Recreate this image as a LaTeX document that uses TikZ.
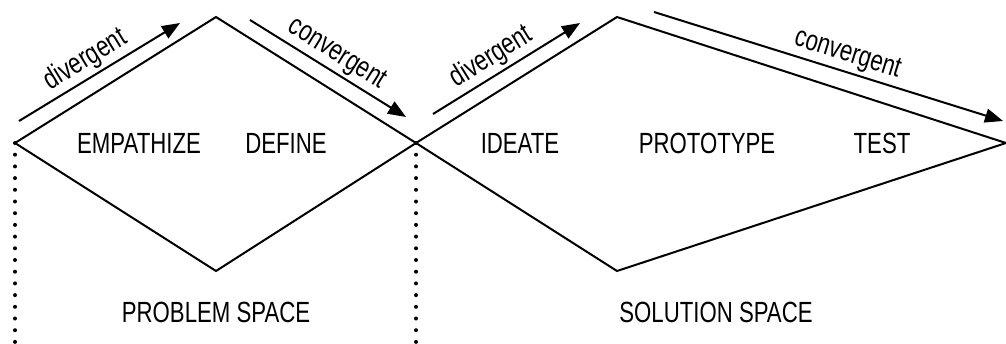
\documentclass[tikz,border=0pt]{standalone}
\usepackage{fontspec}
\setmainfont{Liberation Sans}[FakeStretch=0.76]
\usetikzlibrary{arrows.meta}

\begin{document}
\begin{tikzpicture}[
    x=0.5pt, y=-0.5pt,
    edge/.style={line width=1pt, line join=miter},
    flow/.style={-{Triangle[length=9pt,width=7pt]}, line width=1pt},
    phase/.style={font=\fontsize{14.6}{17}\selectfont, inner sep=0pt},
    flowlabel/.style={font=\fontsize{14.6}{17}\selectfont, sloped, above, inner sep=1.5pt},
    boundary/.style={line width=2pt, line cap=round, dash pattern=on 0pt off 5.85pt}
]
\useasboundingbox (0,0) rectangle (1006,343);

% Corners of the two shapes
\coordinate (pleft) at (15,143);
\coordinate (ptop) at (216,17);
\coordinate (mid) at (416,143);
\coordinate (pbot) at (216,271);
\coordinate (stop) at (617,17);
\coordinate (sright) at (1006,143);
\coordinate (sbot) at (617,271);

% Problem and solution shapes
\draw[edge] (pleft) -- (ptop) -- (mid) -- (pbot) -- cycle;
\draw[edge] (mid) -- (stop) -- (sright) -- (sbot) -- cycle;

% Space boundaries
\coordinate (pleftend) at (15,343);
\coordinate (midend) at (416,343);
\draw[boundary] (pleft) -- (pleftend);
\draw[boundary] (mid) -- (midend);

% Divergent / convergent arrows
\coordinate (div1a) at (19,121);
\coordinate (div1b) at (180,23);
\coordinate (conv1a) at (250,20);
\coordinate (conv1b) at (406,117);
\coordinate (div2a) at (433,114);
\coordinate (div2b) at (580,23);
\coordinate (conv2a) at (654,12);
\coordinate (conv2b) at (1003,121);

\draw[flow] (div1a) -- node[flowlabel, pos=0.47] (div1) {divergent} (div1b);
\draw[flow] (conv1a) -- node[flowlabel, pos=0.5] (conv1) {convergent} (conv1b);
\draw[flow] (div2a) -- node[flowlabel, pos=0.46] (div2) {divergent} (div2b);
\draw[flow] (conv2a) -- node[flowlabel, pos=0.54] (conv2) {convergent} (conv2b);

% Phases
\node[phase] (empathize) at (139,143) {EMPATHIZE};
\node[phase] (define) at (286,143) {DEFINE};
\node[phase] (ideate) at (520,143) {IDEATE};
\node[phase] (prototype) at (707,143) {PROTOTYPE};
\node[phase] (test) at (882,143) {TEST};

% Spaces
\node[phase] (problem) at (216,312) {PROBLEM SPACE};
\node[phase] (solution) at (716,312) {SOLUTION SPACE};

\end{tikzpicture}
\end{document}
